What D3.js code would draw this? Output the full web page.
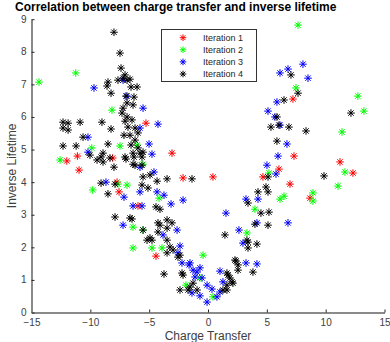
<!DOCTYPE html>
<html>
<head>
<meta charset="utf-8">
<script src="https://cdn.jsdelivr.net/npm/d3@7"></script>
<style>
  body { margin: 0; background: #fff; }
  svg { display: block; font-family: "Liberation Sans", Arial, sans-serif; }
</style>
</head>
<body>
<script>
(function () {
    'use strict';

    // data: [charge transfer, inverse lifetime]
    var iter1 = [[-5.27,5.81],[-12.0,4.65],[-11.1,4.8],[-10.96,4.37],[-8.1,4.74],[-7.73,4.0],[-3.06,4.89],[-2.12,4.13],[0.42,4.16],[-7.56,3.7],[-5.95,3.27],[-4.42,1.73],[7.22,6.55],[7.31,4.8],[6.03,4.4],[4.67,4.16],[6.97,3.94],[8.67,3.51],[11.22,4.62],[12.32,4.28]];
    var iter2 = [[-14.36,7.07],[-11.24,7.35],[-8.16,6.21],[-7.48,5.11],[-9.88,5.05],[-12.57,4.68],[-6.03,5.14],[-5.52,4.55],[-9.8,3.76],[-7.65,3.94],[-6.88,3.91],[-4.16,3.51],[-6.37,2.62],[-5.52,2.53],[-6.37,1.98],[-3.91,1.98],[-4.76,1.98],[-0.42,1.76],[-1.87,0.84],[-0.68,1.06],[0.42,0.48],[3.31,2.44],[7.65,8.82],[7.48,6.89],[12.74,6.64],[13.25,6.18],[11.39,5.54],[11.64,4.31],[11.05,3.88],[5.18,4.28],[6.46,3.57],[6.12,3.48],[8.92,3.67],[8.92,3.42],[3.99,3.17]];
    var iter3 = [[-9.69,6.89],[-4.25,5.78],[-10.2,5.38],[-10.2,4.92],[-8.67,4.0],[-7.22,7.13],[-6.88,6.64],[-5.52,6.27],[-5.78,5.66],[-5.01,5.17],[-4.76,4.86],[-4.59,4.31],[-5.78,4.46],[-3.74,3.6],[-4.33,3.7],[-5.78,3.7],[-7.14,3.54],[-2.12,3.45],[-3.14,3.33],[-6.37,3.27],[-5.61,3.27],[1.53,3.05],[2.63,2.53],[-2.63,2.53],[-3.82,2.38],[-7.22,2.68],[-2.55,1.83],[-2.21,1.52],[-1.61,1.46],[-0.93,1.24],[-1.1,1.09],[-0.68,1.37],[-0.51,1.06],[1.02,1.27],[-0.08,0.84],[0.34,0.72],[-1.36,0.6],[-0.68,0.51],[-0.08,0.32],[0.76,0.48],[1.02,0.63],[1.27,0.94],[2.97,2.13],[3.23,1.52],[4.16,1.49],[-2.38,2.04],[-1.53,1.52],[-1.27,1.3],[4.16,2.75],[8.07,7.62],[6.8,7.47],[6.12,7.35],[8.5,7.19],[5.86,6.46],[5.1,6.18],[5.69,6.0],[6.12,5.75],[6.71,5.17],[5.95,4.8],[5.01,4.52],[5.78,4.25],[3.23,3.48],[4.25,3.48],[6.8,2.75]];
    var iter4 = [[-7.99,8.6],[-7.48,7.96],[-7.39,7.5],[-7.22,7.19],[-7.65,7.13],[-6.88,7.13],[-6.63,7.16],[-7.05,7.29],[-8.5,7.07],[-8.58,6.95],[-8.24,6.73],[-6.54,6.92],[-6.03,6.92],[-6.97,6.64],[-6.29,6.61],[-6.88,6.43],[-7.22,6.27],[-6.37,6.37],[-7.31,6.12],[-6.88,6.0],[-6.46,5.91],[-7.05,5.87],[-9.01,5.84],[-8.24,5.63],[-6.8,5.69],[-6.2,5.66],[-6.63,5.44],[-7.14,5.44],[-5.95,5.51],[-6.2,5.29],[-8.5,5.17],[-6.54,5.14],[-5.95,5.05],[-5.52,4.92],[-9.09,4.77],[-7.05,4.77],[-5.61,4.77],[-6.29,4.77],[-12.32,5.84],[-11.89,5.81],[-12.32,5.66],[-11.89,5.6],[-10.87,5.84],[-10.62,5.38],[-12.32,5.11],[-11.21,5.11],[-10.03,4.83],[-9.43,4.68],[-8.92,4.89],[-8.92,4.62],[-8.33,4.74],[-6.97,4.71],[-7.99,4.46],[-6.2,4.52],[-5.52,4.16],[-4.93,4.22],[-9.09,3.97],[-5.1,3.82],[-5.61,3.91],[-8.5,3.64],[-6.37,4.89],[-5.78,4.89],[-6.37,4.55],[-5.61,4.52],[-4.33,4.03],[-3.48,4.1],[-1.36,4.1],[-7.9,3.94],[-4.42,3.24],[-4.08,3.17],[-7.9,2.93],[-6.46,2.87],[-5.52,2.53],[-4.25,2.75],[-3.48,2.84],[-3.06,2.75],[-4.25,2.47],[-3.48,2.59],[-5.18,2.22],[-4.76,2.22],[-3.48,2.22],[-3.23,2.01],[-2.97,1.92],[-3.48,1.83],[-2.55,1.7],[-3.74,1.18],[-2.12,1.15],[-2.38,0.69],[-1.53,0.78],[-1.27,0.9],[-0.93,0.69],[-1.7,0.69],[-2.21,1.21],[1.44,2.38],[2.29,1.61],[2.55,1.46],[1.7,1.15],[1.61,0.69],[1.27,0.69],[2.12,0.9],[3.4,3.36],[3.31,2.22],[-6.63,2.9],[-4.08,2.68],[-4.93,2.29],[3.99,2.71],[5.1,2.68],[3.4,2.16],[4.16,2.1],[3.4,1.98],[2.38,1.58],[2.55,1.3],[3.82,1.24],[1.61,1.21],[1.87,1.06],[1.61,0.84],[-2.38,1.76],[7.05,7.29],[7.65,6.73],[6.46,6.52],[5.86,6.0],[5.35,5.69],[6.03,5.75],[6.88,5.69],[8.33,5.57],[5.86,5.26],[5.1,4.16],[4.93,3.85],[4.25,3.7],[5.1,3.7],[4.5,3.05],[5.18,3.08],[12.15,6.12],[9.86,4.19],[2.04,0.94]];

    var seriesNames = ['Iteration 1', 'Iteration 2', 'Iteration 3', 'Iteration 4'];
    var seriesColors = ['#ff0000', '#00ff00', '#0000ff', '#000000'];
    var xTicks = [-15, -10, -5, 0, 5, 10, 15];
    var yTicks = [0, 1, 2, 3, 4, 5, 6, 7, 8, 9];

    var width = 390, height = 342;
    var svg = d3.select('body')
        .append('svg')
        .attr('width', width)
        .attr('height', height);

    var x = d3.scaleLinear().domain([-15, 15]).range([31.5, 384.5]);
    var y = d3.scaleLinear().domain([0, 9]).range([312.5, 19.2]);

    // MATLAB-like asterisk marker
    function star(r) {
        var d = r * 0.7071;
        return 'M' + (-r) + ',0H' + r + 'M0,' + (-r) + 'V' + r +
            'M' + (-d) + ',' + (-d) + 'L' + d + ',' + d +
            'M' + (-d) + ',' + d + 'L' + d + ',' + (-d);
    }

    // axes
    var xAxis = svg.append('g')
        .attr('transform', 'translate(0,' + y(0) + ')')
        .call(d3.axisBottom(x).tickValues(xTicks).tickSizeInner(-3).tickSizeOuter(0).tickPadding(6));
    var yAxis = svg.append('g')
        .attr('transform', 'translate(' + x(-15) + ',0)')
        .call(d3.axisLeft(y).tickValues(yTicks).tickSizeInner(-3).tickSizeOuter(0).tickPadding(5));

    [xAxis, yAxis].forEach(function (g) {
        g.select('.domain').attr('stroke', '#8a8a8a').attr('stroke-width', 2);
        g.selectAll('.tick line').attr('stroke', '#262626');
        g.selectAll('.tick text')
            .attr('fill', '#404040')
            .style('font-size', '10px')
            .style('font-family', '"Liberation Sans", Arial, sans-serif');
    });
    // y labels sit a touch higher so they clear the x labels
    yAxis.selectAll('.tick text').attr('dy', '0.3em');

    // points
    var allSeries = [iter1, iter2, iter3, iter4];
    allSeries.forEach(function (data, i) {
        svg.append('g')
            .selectAll('path')
            .data(data)
            .enter()
            .append('path')
            .attr('d', star(3.8))
            .attr('transform', function (d) {
                return 'translate(' + x(d[0]) + ',' + y(d[1]) + ')';
            })
            .attr('fill', 'none')
            .attr('stroke', seriesColors[i])
            .attr('stroke-width', 1);
    });

    // titles
    svg.append('text')
        .attr('x', 15)
        .attr('y', 11)
        .style('font-size', '12px')
        .style('font-weight', 'bold')
        .text('Correlation between charge transfer and inverse lifetime');

    svg.append('text')
        .attr('x', x(0))
        .attr('y', 340)
        .attr('text-anchor', 'middle')
        .attr('fill', '#404040')
        .style('font-size', '12px')
        .text('Charge Transfer');

    svg.append('text')
        .attr('transform', 'translate(16,' + y(4.5) + ') rotate(-90)')
        .attr('text-anchor', 'middle')
        .attr('fill', '#404040')
        .style('font-size', '12px')
        .text('Inverse Lifetime');

    // legend
    var legend = svg.append('g');
    legend.append('rect')
        .attr('x', 161.5)
        .attr('y', 29.5)
        .attr('width', 95)
        .attr('height', 52)
        .attr('fill', '#fff')
        .attr('stroke', '#333')
        .attr('stroke-width', 1);

    var rows = legend.selectAll('g.row')
        .data(seriesNames)
        .enter()
        .append('g')
        .attr('class', 'row')
        .attr('transform', function (d, i) {
            return 'translate(0,' + (37.7 + i * 12.1) + ')';
        });
    rows.append('path')
        .attr('d', star(3.3))
        .attr('transform', 'translate(183,0)')
        .attr('fill', 'none')
        .attr('stroke', function (d, i) { return seriesColors[i]; });
    rows.append('text')
        .attr('x', 203)
        .attr('dy', '0.35em')
        .attr('fill', '#262626')
        .style('font-size', '9px')
        .text(function (d) { return d; });
}());
</script>
</body>
</html>
